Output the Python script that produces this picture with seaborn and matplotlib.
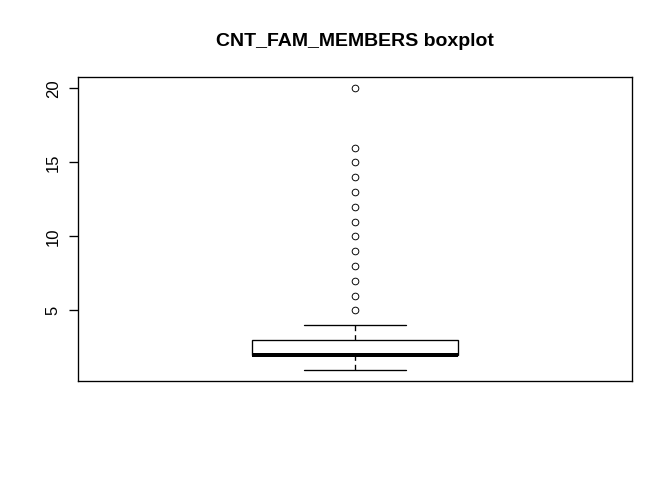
import numpy as np
import pandas as pd
import seaborn as sns
import matplotlib.pyplot as plt

# family size values and how often each occurs (scaled counts)
fam_members = [1, 2, 3, 4, 5, 6, 7, 8, 9, 10, 11, 12, 13, 14, 15, 16, 20]
counts = [670, 1580, 530, 250, 1, 1, 1, 1, 1, 1, 1, 1, 1, 1, 1, 1, 1]
y_ticks = [5, 10, 15, 20]

df = pd.DataFrame({"CNT_FAM_MEMBERS": np.repeat(fam_members, counts)})

sns.set_style("white")
plt.rcParams["font.family"] = ["Liberation Sans", "DejaVu Sans"]
plt.rcParams["text.color"] = "black"
plt.rcParams["ytick.color"] = "black"

fig = plt.figure(figsize=(7, 5), dpi=96)
ax = fig.add_axes([78 / 672, 1 - 381 / 480, (632 - 78) / 672, (381 - 77) / 480])

sns.boxplot(
    data=df, y="CNT_FAM_MEMBERS", ax=ax, width=0.4, whis=1.5,
    color="white", linecolor="black", linewidth=1, fliersize=5,
    boxprops={"facecolor": "white", "edgecolor": "black"},
    medianprops={"linewidth": 3, "color": "black"},
    whiskerprops={"linestyle": (0, (4, 3)), "color": "black"},
    capprops={"color": "black"},
    flierprops={"marker": "o", "markerfacecolor": "none",
                "markeredgecolor": "black", "markeredgewidth": 0.7},
)

ax.set_xlim(-0.54, 0.54)
ax.set_ylim(0.24, 20.76)
ax.set_xticks([])
ax.set_yticks(y_ticks)
ax.set_yticklabels([str(t) for t in y_ticks], rotation=90, va="center",
                   fontsize=12.5, color="black")
ax.tick_params(axis="y", left=True, length=7, width=1, color="black", pad=6)
ax.set_ylabel("")
ax.set_xlabel("")
for s in ax.spines.values():
    s.set_visible(True)
    s.set_color("black")
    s.set_linewidth(1)

fig.text(355 / 672, 1 - 41 / 480, "CNT_FAM_MEMBERS boxplot", ha="center",
         va="center", fontsize=14.6, fontweight="bold", color="black")

fig.savefig("out.png", dpi=96)
